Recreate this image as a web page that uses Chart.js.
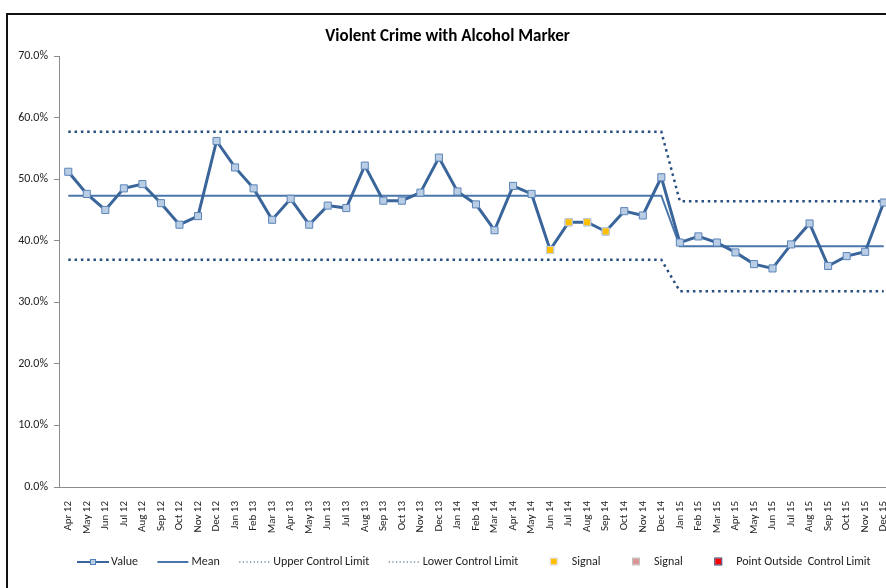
<!DOCTYPE html>
<html>
<head>
<meta charset="utf-8">
<script src="https://cdn.jsdelivr.net/npm/chart.js@4.4.0/dist/chart.umd.min.js"></script>
<style>
  html, body { margin: 0; padding: 0; background: #fff; overflow: hidden; }
  #frame { position: absolute; left: 6px; top: 13px; width: 1000px; height: 1000px; border-left: 2px solid #111; border-top: 2px solid #111; }
  #chart { position: absolute; left: 0; top: 0; }
</style>
</head>
<body>
<div id="frame"></div>
<canvas id="chart" width="903" height="588"></canvas>
<script>
// monthly categories
const months = [
  'Apr 12', 'May 12', 'Jun 12', 'Jul 12', 'Aug 12', 'Sep 12', 'Oct 12', 'Nov 12', 'Dec 12',
  'Jan 13', 'Feb 13', 'Mar 13', 'Apr 13', 'May 13', 'Jun 13', 'Jul 13', 'Aug 13', 'Sep 13', 'Oct 13', 'Nov 13', 'Dec 13',
  'Jan 14', 'Feb 14', 'Mar 14', 'Apr 14', 'May 14', 'Jun 14', 'Jul 14', 'Aug 14', 'Sep 14', 'Oct 14', 'Nov 14', 'Dec 14',
  'Jan 15', 'Feb 15', 'Mar 15', 'Apr 15', 'May 15', 'Jun 15', 'Jul 15', 'Aug 15', 'Sep 15', 'Oct 15', 'Nov 15', 'Dec 15'
];

// % of violent crimes with alcohol marker
const valuePct = [
  51.2, 47.6, 45.0, 48.5, 49.2, 46.1, 42.6, 44.0, 56.2,
  51.9, 48.5, 43.4, 46.8, 42.6, 45.7, 45.3, 52.2, 46.5, 46.5, 47.8, 53.5,
  48.0, 45.9, 41.7, 48.9, 47.6, 38.5, 43.0, 43.0, 41.5, 44.8, 44.1, 50.3,
  39.7, 40.7, 39.7, 38.1, 36.2, 35.5, 39.4, 42.8, 35.9, 37.5, 38.2, 46.2
];

const meanPct = [
  47.3, 47.3, 47.3, 47.3, 47.3, 47.3, 47.3, 47.3, 47.3,
  47.3, 47.3, 47.3, 47.3, 47.3, 47.3, 47.3, 47.3, 47.3, 47.3, 47.3, 47.3,
  47.3, 47.3, 47.3, 47.3, 47.3, 47.3, 47.3, 47.3, 47.3, 47.3, 47.3, 47.3,
  39.1, 39.1, 39.1, 39.1, 39.1, 39.1, 39.1, 39.1, 39.1, 39.1, 39.1, 39.1
];

const uclPct = [
  57.7, 57.7, 57.7, 57.7, 57.7, 57.7, 57.7, 57.7, 57.7,
  57.7, 57.7, 57.7, 57.7, 57.7, 57.7, 57.7, 57.7, 57.7, 57.7, 57.7, 57.7,
  57.7, 57.7, 57.7, 57.7, 57.7, 57.7, 57.7, 57.7, 57.7, 57.7, 57.7, 57.7,
  46.4, 46.4, 46.4, 46.4, 46.4, 46.4, 46.4, 46.4, 46.4, 46.4, 46.4, 46.4
];

const lclPct = [
  36.9, 36.9, 36.9, 36.9, 36.9, 36.9, 36.9, 36.9, 36.9,
  36.9, 36.9, 36.9, 36.9, 36.9, 36.9, 36.9, 36.9, 36.9, 36.9, 36.9, 36.9,
  36.9, 36.9, 36.9, 36.9, 36.9, 36.9, 36.9, 36.9, 36.9, 36.9, 36.9, 36.9,
  31.8, 31.8, 31.8, 31.8, 31.8, 31.8, 31.8, 31.8, 31.8, 31.8, 31.8, 31.8
];

// signal run (below mean) flagged in Jun-Sep 14
const signalPct = [
  null, null, null, null, null, null, null, null, null,
  null, null, null, null, null, null, null, null, null, null, null, null,
  null, null, null, null, null, 38.5, 43.0, 43.0, 41.5, null, null, null,
  null, null, null, null, null, null, null, null, null, null, null, null
];

const legendLabels = ['Value', 'Mean', 'Upper Control Limit', 'Lower Control Limit', 'Signal', 'Signal', 'Point Outside  Control Limit'];

const FONT = "'Liberation Sans Narrow', Carlito, 'DejaVu Sans Condensed', sans-serif";
const lineBlue = '#3A659B';
const dotBlue = '#284F80';

const legendPlugin = {
  id: 'excelLegend',
  afterDraw(chart) {
    const ctx = chart.ctx;
    const y = 562;
    let x = 77;
    ctx.save();
    ctx.font = '12px ' + FONT;
    ctx.textBaseline = 'middle';
    ctx.fillStyle = '#222';
    legendLabels.forEach((label, i) => {
      ctx.save();
      if (i === 0) {
        ctx.strokeStyle = lineBlue; ctx.lineWidth = 2;
        ctx.beginPath(); ctx.moveTo(x, y); ctx.lineTo(x + 32, y); ctx.stroke();
        ctx.fillStyle = '#B9CDE5'; ctx.strokeStyle = '#4F81BD'; ctx.lineWidth = 1;
        ctx.fillRect(x + 13, y - 3, 6, 6); ctx.strokeRect(x + 13.5, y - 2.5, 5, 5);
      } else if (i === 1) {
        ctx.strokeStyle = '#4A76AC'; ctx.lineWidth = 2;
        ctx.beginPath(); ctx.moveTo(x, y); ctx.lineTo(x + 31, y); ctx.stroke();
      } else if (i === 2 || i === 3) {
        ctx.strokeStyle = dotBlue; ctx.lineWidth = 1.2; ctx.setLineDash([1.2, 2.4]);
        ctx.beginPath(); ctx.moveTo(x, y); ctx.lineTo(x + 32, y); ctx.stroke();
      } else {
        const fill = ['#FFC000', '#D99694', '#FF0000'][i - 4];
        const edge = ['#D9D9D9', '#C0C0C0', '#3A3A6A'][i - 4];
        ctx.fillStyle = fill; ctx.strokeStyle = edge; ctx.lineWidth = 1;
        ctx.fillRect(x + 13, y - 3.5, 6, 6); ctx.strokeRect(x + 12.5, y - 4, 7, 7);
      }
      ctx.restore();
      ctx.fillText(label, x + 34, y);
      x += 34 + ctx.measureText(label).width + 19.5;
    });
    ctx.restore();
  }
};

new Chart(document.getElementById('chart'), {
  type: 'line',
  data: {
    labels: months,
    datasets: [
      {
        label: 'Signal', data: signalPct, showLine: false, order: 0,
        pointStyle: 'rect', pointRadius: 5, pointBackgroundColor: '#FFC000', pointBorderColor: '#C6D3E6', pointBorderWidth: 1
      },
      {
        label: 'Value', data: valuePct, order: 1,
        borderColor: lineBlue, borderWidth: 3, tension: 0,
        pointStyle: 'rect', pointRadius: 5, pointBackgroundColor: '#B9CDE5', pointBorderColor: '#5B84B8', pointBorderWidth: 1
      },
      {
        label: 'Mean', data: meanPct, order: 2,
        borderColor: '#4A76AC', borderWidth: 2, pointRadius: 0, tension: 0
      },
      {
        label: 'Upper Control Limit', data: uclPct, order: 2,
        borderColor: dotBlue, borderWidth: 2.5, borderDash: [2.5, 3.8], pointRadius: 0, tension: 0
      },
      {
        label: 'Lower Control Limit', data: lclPct, order: 2,
        borderColor: dotBlue, borderWidth: 2.5, borderDash: [2.5, 3.8], pointRadius: 0, tension: 0
      }
    ]
  },
  options: {
    responsive: false,
    animation: false,
    layout: { padding: { left: 0, right: 8, top: 0, bottom: 0 } },
    plugins: {
      legend: { display: false },
      tooltip: { enabled: false },
      title: {
        display: true,
        text: 'Violent Crime with Alcohol Marker',
        color: '#000',
        font: { family: FONT, size: 17, weight: 'bold' },
        padding: { top: 27, bottom: 8.6 }
      }
    },
    scales: {
      x: {
        offset: true,
        grid: { display: false },
        border: { display: true, color: '#8C8C8C', width: 1 },
        ticks: {
          autoSkip: false, minRotation: 90, maxRotation: 90, padding: 6,
          color: '#222', font: { family: FONT, size: 11 }
        },
        afterFit(scale) { scale.height = 101; }
      },
      y: {
        min: 0, max: 70,
        grid: { drawOnChartArea: false, drawTicks: true, tickLength: 5, color: '#8C8C8C' },
        border: { display: true, color: '#8C8C8C', width: 1 },
        ticks: {
          stepSize: 10, padding: 6, color: '#222', font: { family: FONT, size: 12 },
          callback: v => v.toFixed(1) + '%'
        },
        afterFit(scale) { scale.width = 59; }
      }
    }
  },
  plugins: [legendPlugin]
});
</script>
</body>
</html>
